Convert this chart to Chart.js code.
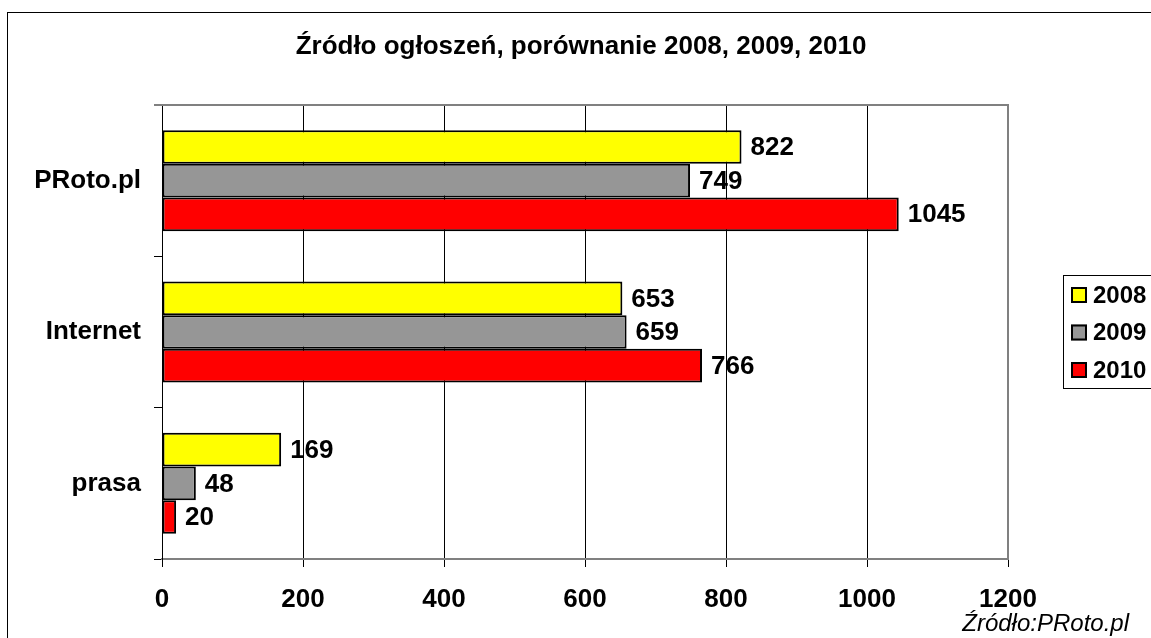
<!DOCTYPE html>
<html>
<head>
<meta charset="utf-8">
<script src="https://cdn.jsdelivr.net/npm/chart.js@4"></script>
<style>
  html, body { margin: 0; padding: 0; background: #fff; }
  canvas { display: block; }
</style>
</head>
<body>
<canvas id="c" width="1151" height="638"></canvas>
<script>
const chartTitle = "Źródło ogłoszeń, porównanie 2008, 2009, 2010";
const sourceNote = "Źródło:PRoto.pl";
const categories = ["PRoto.pl", "Internet", "prasa"];
const seriesNames = ["2008", "2009", "2010"];
const values2008 = [822, 653, 169];
const values2009 = [749, 659, 48];
const values2010 = [1045, 766, 20];
const xTicks = [0, 200, 400, 600, 800, 1000, 1200];
const seriesColors = ["#FFFF00", "#969696", "#FF0000"];

const FONT = "'Liberation Sans', Arial, sans-serif";

const decorPlugin = {
  id: 'decor',
  beforeDraw(chart) {
    const ctx = chart.ctx;
    ctx.save();
    ctx.fillStyle = '#fff';
    ctx.fillRect(0, 0, chart.width, chart.height);
    ctx.strokeStyle = '#000';
    ctx.lineWidth = 1;
    ctx.strokeRect(7.5, 12.5, chart.width + 20, chart.height + 20);
    ctx.restore();
  },
  afterDatasetsDraw(chart) {
    const ctx = chart.ctx;
    const a = chart.chartArea;
    ctx.save();
    ctx.strokeStyle = '#808080';
    ctx.lineWidth = 2;
    ctx.beginPath();
    ctx.moveTo(154, a.top);
    ctx.lineTo(a.right, a.top);
    ctx.lineTo(a.right, a.bottom);
    ctx.stroke();
    ctx.fillStyle = '#000';
    ctx.font = "bold 26px " + FONT;
    ctx.textAlign = 'left';
    ctx.textBaseline = 'middle';
    chart.data.datasets.forEach((ds, i) => {
      const meta = chart.getDatasetMeta(i);
      meta.data.forEach((el, j) => {
        ctx.fillText(String(ds.data[j]), el.x + 9, el.y + 1);
      });
    });
    ctx.font = "bold 26px " + FONT;
    ctx.textAlign = 'center';
    ctx.textBaseline = 'middle';
    ctx.fillText(chartTitle, 581, 47);
    ctx.font = "italic 24px " + FONT;
    ctx.textAlign = 'right';
    ctx.fillText(sourceNote, 1129, 624);
    ctx.strokeStyle = '#000';
    ctx.lineWidth = 1;
    ctx.strokeRect(1063.5, 275.5, 120, 113);
    chart.data.datasets.forEach((ds, i) => {
      const cy = 295 + i * 37.5;
      ctx.fillStyle = ds.backgroundColor;
      ctx.fillRect(1071, cy - 8, 16, 16);
      ctx.lineWidth = 2;
      ctx.strokeStyle = '#000';
      ctx.strokeRect(1072, cy - 7, 14, 14);
      ctx.fillStyle = '#000';
      ctx.font = "bold 24px " + FONT;
      ctx.textAlign = 'left';
      ctx.textBaseline = 'middle';
      ctx.fillText(ds.label, 1093, cy + 1);
    });
    ctx.restore();
  }
};

const datasets = [values2008, values2009, values2010].map((vals, i) => ({
  label: seriesNames[i],
  data: vals,
  backgroundColor: seriesColors[i],
  borderColor: '#000',
  borderWidth: 2,
  borderSkipped: false,
  categoryPercentage: 0.667,
  barPercentage: 1.0
}));

new Chart(document.getElementById('c'), {
  type: 'bar',
  data: { labels: categories, datasets },
  options: {
    indexAxis: 'y',
    responsive: false,
    animation: false,
    devicePixelRatio: 1,
    layout: { padding: { top: 105, right: 143, left: 0, bottom: 0 } },
    plugins: { legend: { display: false }, title: { display: false }, tooltip: { enabled: false } },
    scales: {
      x: {
        min: xTicks[0],
        max: xTicks[xTicks.length - 1],
        afterBuildTicks(scale) { scale.ticks = xTicks.map(v => ({ value: v })); },
        afterFit(scale) { scale.height = 79; },
        ticks: { color: '#000', font: { family: FONT, size: 26, weight: 'bold' }, padding: 17, maxRotation: 0,
                 callback: (v) => String(v) },
        grid: { color: '#000', lineWidth: 1, tickLength: 8, drawOnChartArea: true },
        border: { display: true, color: '#808080', width: 2 }
      },
      y: {
        afterFit(scale) { scale.width = 162; },
        ticks: { color: '#000', font: { family: FONT, size: 26, weight: 'bold' }, padding: 13 },
        grid: { color: '#000', lineWidth: 1, tickLength: 8, drawOnChartArea: false, offset: true },
        border: { display: true, color: '#000', width: 1 }
      }
    }
  },
  plugins: [decorPlugin]
});
</script>
</body>
</html>
